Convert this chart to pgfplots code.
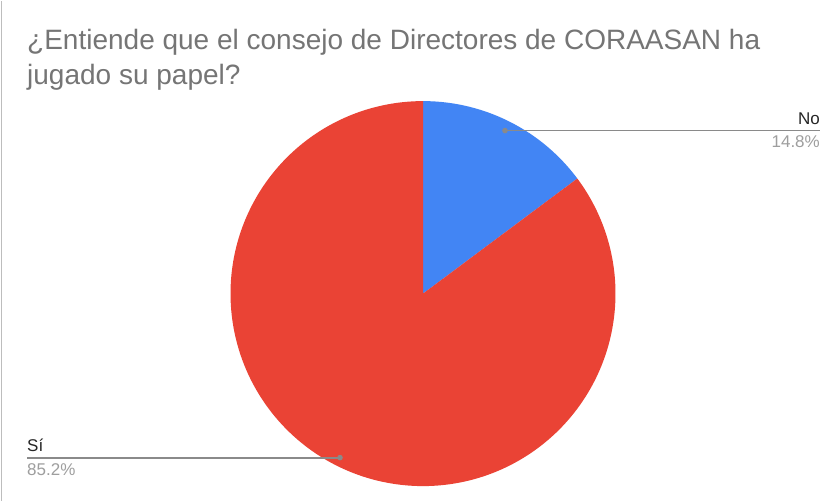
\documentclass[border=0pt]{standalone}
\usepackage{pgfplots}
\pgfplotsset{compat=1.18}
\usepackage{fontspec}
\setmainfont{Liberation Sans}

\definecolor{pieBlue}{HTML}{4285F4}
\definecolor{pieRed}{HTML}{EA4335}
\definecolor{titleGray}{HTML}{757575}
\definecolor{leader}{HTML}{8A8A8A}
\definecolor{pctGray}{HTML}{9E9E9E}
\definecolor{frameGray}{HTML}{BDBDBD}

% shares (percent)
\def\pNo{14.8}
\def\pSi{85.2}
% pie centre and radius, in pixels of the 840x500 canvas (y from bottom)
\def\cx{423}
\def\cy{207}
\def\r{192.5}

\begin{document}
\begin{tikzpicture}
\pgfmathsetmacro\aNo{90-3.6*\pNo}
\pgfmathsetmacro\aSi{\aNo-3.6*\pSi}
\begin{axis}[
  width=840pt, height=500pt, scale only axis,
  xmin=0, xmax=840, ymin=0, ymax=500,
  hide axis, clip=false,
]
\fill[white] (axis cs:0,0) rectangle (axis cs:840,500);
\draw[frameGray, line width=1.2pt] (axis cs:1.5,0) -- (axis cs:1.5,500);

% slices, clockwise from 12 o'clock
\addplot[fill=pieBlue, draw=none, domain=\aNo:90, samples=120, variable=\t]
  ({\cx+\r*cos(\t)},{\cy+\r*sin(\t)}) -- (axis cs:\cx,\cy) -- cycle;
\addplot[fill=pieRed, draw=none, domain=\aSi:\aNo, samples=300, variable=\t]
  ({\cx+\r*cos(\t)},{\cy+\r*sin(\t)}) -- (axis cs:\cx,\cy) -- cycle;

% title
\node[anchor=base west, text=titleGray, font=\fontsize{28}{34}\selectfont, inner sep=0pt]
  at (axis cs:27,451) {¿Entiende que el consejo de Directores de CORAASAN ha};
\node[anchor=base west, text=titleGray, font=\fontsize{28}{34}\selectfont, inner sep=0pt]
  at (axis cs:27,416) {jugado su papel?};

% leader lines and labels
\draw[leader, line width=1.8pt] (axis cs:505,370) -- (axis cs:820,370);
\fill[leader] (axis cs:505,370) circle (2.8pt);
\node[anchor=base east, inner sep=0pt, text=black!85, font=\fontsize{17}{20}\selectfont]
  at (axis cs:820,376.5) {No};
\node[anchor=base east, inner sep=0pt, text=pctGray, font=\fontsize{17}{20}\selectfont]
  at (axis cs:820,353) {14.8\%};

\draw[leader, line width=1.8pt] (axis cs:27,43) -- (axis cs:340,43);
\fill[leader] (axis cs:340,43) circle (2.8pt);
\node[anchor=base west, inner sep=0pt, text=black!85, font=\fontsize{17}{20}\selectfont]
  at (axis cs:27,49.5) {Sí};
\node[anchor=base west, inner sep=0pt, text=pctGray, font=\fontsize{17}{20}\selectfont]
  at (axis cs:27,25.5) {85.2\%};
\end{axis}
\end{tikzpicture}
\end{document}
